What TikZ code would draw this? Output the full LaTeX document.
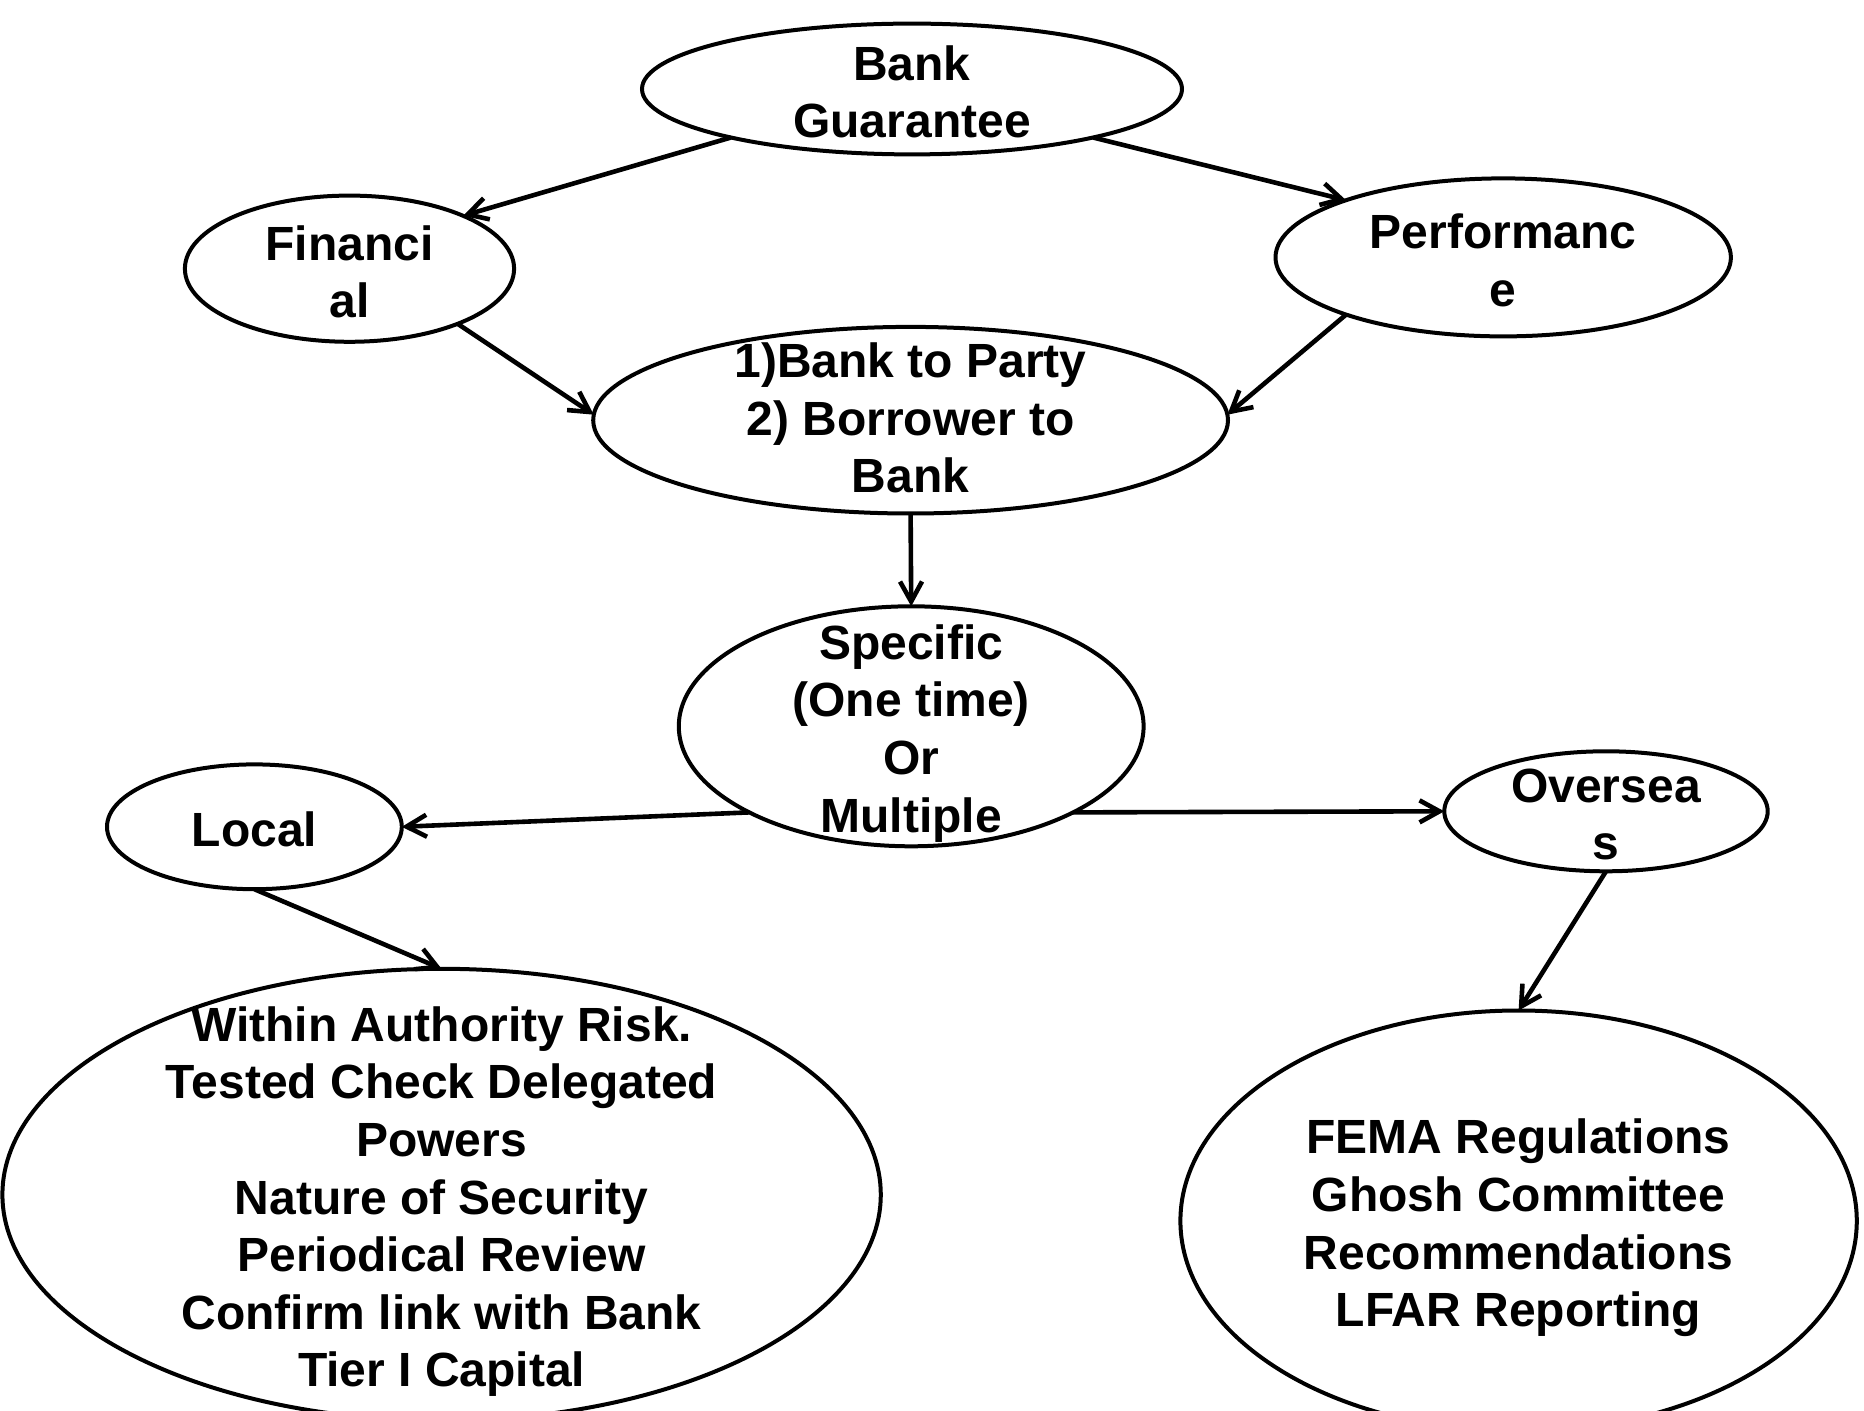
\documentclass[tikz,border=0pt]{standalone}
\usepackage{fontspec}
\setmainfont{Liberation Sans}
\usetikzlibrary{shapes.geometric,arrows.meta}
\tikzset{
	oval/.style={ellipse, draw, line width=2pt, inner sep=0pt, outer sep=0pt},
	lbl/.style={align=center, inner sep=0pt, yshift=-1.5pt, font=\fontsize{24}{28.8}\selectfont\bfseries},
	arr/.style={line width=2.3pt, -{Straight Barb[length=10pt,width=11pt]}}
}

\begin{document}
\begin{tikzpicture}[x=0.5pt, y=-0.5pt]
		%%%%% START %%%%%
		
		\fill[white] (0, 0) rectangle (1864, 1411);
		\clip (0, 0) rectangle (1864, 1411);
		
		\node[oval, minimum width=270pt, minimum height=65.4pt] (bg) at (912, 89) {};
		\node[lbl] (bgt) at (bg) {Bank\\Guarantee};
		
		\node[oval, minimum width=164.6pt, minimum height=73.1pt] (fin) at (349.5, 268.7) {};
		\node[lbl] (fint) at (fin) {Financi\\al};
		
		\node[oval, minimum width=227.7pt, minimum height=79pt] (perf) at (1503.2, 257.4) {};
		\node[lbl] (perft) at (perf) {Performanc\\e};
		
		\node[oval, minimum width=317.4pt, minimum height=93.3pt] (bp) at (910.6, 420.2) {};
		\node[lbl] (bpt) at ([yshift=2.5pt]bp.center) {1)Bank to Party\\2) Borrower to\\Bank};
		
		\node[oval, minimum width=232.4pt, minimum height=120pt] (spec) at (911.2, 726.3) {};
		\node[lbl] (spect) at ([yshift=-2pt]spec.center) {Specific\\(One time)\\Or\\Multiple};
		
		\node[oval, minimum width=147.4pt, minimum height=62.4pt] (local) at (254.4, 826.8) {};
		\node[lbl] (localt) at (local) {Local};
		
		\node[oval, minimum width=161.7pt, minimum height=60pt] (ovs) at (1606, 811.3) {};
		\node[lbl] (ovst) at (ovs) {Oversea\\s};
		
		\node[oval, minimum width=439.2pt, minimum height=225.9pt] (lb) at (441.6, 1194.7) {};
		\node[lbl] (lbt) at ([yshift=-2pt]lb.center) {Within Authority Risk.\\Tested Check Delegated\\Powers\\Nature of Security\\Periodical Review\\Confirm link with Bank\\Tier I Capital};
		
		\node[oval, minimum width=338.2pt, minimum height=210.4pt] (rb) at (1518.6, 1220.9) {};
		\node[lbl] (rbt) at ([yshift=-2pt]rb.center) {FEMA Regulations\\Ghosh Committee\\Recommendations\\LFAR Reporting};
		
		\draw[arr] (bg.195) -- (fin.25);
		\draw[arr] (bg.345) -- (perf.160);
		\draw[arr] (fin.333) -- (bp.179);
		\draw[arr] (perf.200) -- (bp.1);
		\draw[arr] (bp.south) -- (spec.north);
		\draw[arr] (spec.208) -- (local.east);
		\draw[arr] (spec.332) -- (ovs.west);
		\draw[arr] (local.south) -- (lb.north);
		\draw[arr] (ovs.south) -- (rb.north);
		
		%%%%% END %%%%%
\end{tikzpicture}
\end{document}
